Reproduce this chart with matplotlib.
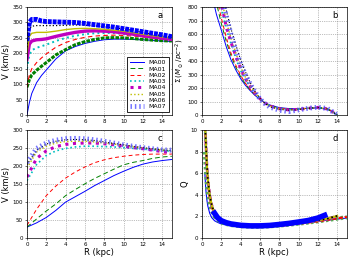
"""Four-panel rotation curve / surface density / Q figure for models MA00-MA07."""

import matplotlib
matplotlib.use("Agg")
import matplotlib.pyplot as plt

MODELS = ["MA00", "MA01", "MA02", "MA03", "MA04", "MA05", "MA06", "MA07"]

# panel a: total rotation curve
R_a = [0, 0.25, 0.5, 1, 1.5, 2, 3, 4, 5, 6, 7, 8, 9, 10, 11, 12, 13, 14, 15]
V_a = [
    [0, 40, 70, 105, 128, 146, 182, 208, 222, 232, 239, 244, 246, 246, 245, 244, 242, 240, 238],
    [90, 115, 130, 145, 158, 170, 195, 212, 228, 238, 245, 250, 251, 250, 248, 245, 243, 241, 240],
    [90, 130, 150, 170, 185, 198, 220, 235, 245, 252, 256, 258, 259, 258, 256, 253, 250, 247, 244],
    [150, 195, 210, 218, 223, 228, 240, 250, 257, 262, 265, 266, 266, 263, 260, 256, 252, 249, 246],
    [180, 230, 240, 244, 245, 247, 255, 262, 268, 272, 273, 272, 270, 266, 262, 257, 253, 249, 245],
    [200, 255, 265, 268, 268, 268, 272, 277, 280, 281, 280, 278, 275, 272, 267, 262, 257, 253, 249],
    [220, 280, 288, 290, 290, 290, 290, 291, 292, 291, 289, 286, 283, 279, 274, 268, 262, 257, 252],
    [240, 300, 310, 310, 305, 303, 302, 301, 300, 297, 293, 289, 285, 280, 275, 270, 265, 260, 254],
]

# panel b: surface density
R_b = [1.0, 1.5, 2, 2.5, 3, 3.5, 4, 4.5, 5, 5.5, 6, 6.5, 7, 8, 9, 10, 11, 12, 13, 13.5, 14]
S_b = [
    [900, 745, 630, 510, 410, 335, 270, 220, 180, 145, 115, 92, 75, 55, 48, 47, 50, 52, 42, 25, 0],
    [1000, 830, 680, 550, 440, 355, 285, 230, 185, 148, 116, 90, 72, 52, 45, 45, 50, 53, 43, 25, 0],
    [1050, 880, 720, 580, 460, 370, 295, 235, 188, 150, 117, 90, 70, 50, 42, 44, 50, 54, 44, 25, 0],
    [1150, 950, 790, 640, 530, 420, 330, 260, 205, 160, 122, 92, 70, 48, 40, 43, 50, 55, 45, 25, 0],
    [1200, 1000, 830, 660, 540, 440, 345, 270, 210, 162, 122, 90, 68, 46, 38, 42, 50, 56, 45, 25, 0],
    [1250, 1050, 870, 700, 570, 460, 360, 280, 215, 165, 123, 90, 67, 45, 37, 42, 51, 56, 46, 25, 0],
    [1350, 1150, 950, 780, 640, 520, 410, 320, 240, 175, 125, 88, 62, 42, 35, 40, 50, 56, 46, 25, 0],
    [1300, 1100, 910, 740, 600, 480, 380, 300, 230, 170, 120, 85, 60, 35, 25, 38, 50, 58, 48, 25, 0],
]

# panel c: disc-only rotation curve
R_c = list(range(16))
V_c = [
    [30, 42, 57, 77, 100, 115, 130, 146, 160, 174, 186, 197, 206, 212, 216, 219],
    [30, 53, 75, 95, 118, 135, 151, 166, 179, 192, 204, 211, 216, 222, 226, 228],
    [35, 80, 118, 145, 167, 184, 198, 210, 218, 224, 228, 231, 233, 234, 234, 234],
    [160, 205, 230, 243, 250, 254, 256, 256, 255, 254, 252, 250, 248, 246, 244, 242],
    [170, 222, 243, 255, 261, 264, 265, 265, 263, 260, 256, 252, 249, 245, 241, 238],
    [195, 240, 256, 265, 269, 270, 270, 268, 265, 262, 258, 254, 251, 248, 245, 243],
    [205, 245, 262, 270, 274, 275, 274, 272, 268, 264, 260, 256, 252, 249, 246, 244],
    [210, 250, 265, 273, 277, 278, 277, 274, 270, 265, 260, 256, 252, 249, 246, 245],
]

# panel d: Toomre Q (curves stop at different radii)
R_d = [0.3, 0.4, 0.5, 0.6, 0.8, 1.0, 1.3, 1.6, 2, 2.5, 3, 4, 5, 6, 7, 8, 9, 10, 11, 12, 12.7, 13, 14, 15]
Q_d = [
    [6.0, 4.5, 3.6, 3.0, 2.3, 1.9, 1.6, 1.45, 1.3, 1.2, 1.13, 1.05, 1.02, 1.03, 1.08, 1.15, 1.25, 1.35, 1.45, 1.55, 1.62, 1.65, 1.75, 1.85],
    [8.0, 6.5, 5.2, 4.3, 3.2, 2.6, 2.0, 1.7, 1.45, 1.3, 1.2, 1.1, 1.05, 1.05, 1.08, 1.15, 1.23, 1.33, 1.43, 1.55, 1.63, 1.67, 1.8, 1.92],
    [10.5, 8.5, 6.5, 5.3, 3.8, 2.9, 2.2, 1.8, 1.5, 1.33, 1.22, 1.1, 1.05, 1.05, 1.08, 1.14, 1.22, 1.32, 1.42, 1.54, 1.63, 1.67, 1.82, 1.95],
    [10.5, 8.6, 6.6, 5.4, 3.9, 3.0, 2.25, 1.82, 1.52, 1.34, 1.22, 1.1, 1.05, 1.05, 1.08, 1.15, 1.24, 1.35, 1.46, 1.6, 1.7, 1.75, 2.0],
    [11.0, 9.0, 7.0, 5.6, 4.0, 3.1, 2.3, 1.85, 1.55, 1.35, 1.23, 1.1, 1.05, 1.05, 1.09, 1.16, 1.25, 1.36, 1.48, 1.62, 1.72, 1.78, 2.02],
    [11.0, 9.0, 7.0, 5.6, 4.0, 3.1, 2.3, 1.85, 1.55, 1.35, 1.23, 1.1, 1.06, 1.06, 1.1, 1.17, 1.26, 1.37, 1.5, 1.64, 1.74, 1.8, 2.05],
    [11.0, 9.0, 7.0, 5.6, 4.0, 3.1, 2.3, 1.85, 1.55, 1.35, 1.23, 1.1, 1.06, 1.06, 1.1, 1.17, 1.26, 1.37, 1.5, 1.64, 1.74, 1.8, 2.05],
]
# MA07 only covers 1.3-12.7 kpc in panel d
R_d7 = [1.3, 1.6, 2, 2.5, 3, 4, 5, 6, 7, 8, 9, 10, 11, 12, 12.7]
Q_d7 = [2.3, 1.9, 1.6, 1.42, 1.3, 1.17, 1.12, 1.12, 1.16, 1.25, 1.35, 1.48, 1.62, 1.85, 2.1]

STYLE = [
    dict(color="b", ls="-", lw=0.7),
    dict(color="g", ls=(0, (5, 3)), lw=0.7),
    dict(color="r", ls=(0, (4, 3)), lw=0.7),
    dict(color="c", ls=":", lw=1.2),
    dict(color="m", ls=(0, (1, 1.5)), lw=2.2),
    dict(color="y", ls=":", lw=1.0),
    dict(color="k", ls=":", lw=0.8),
    dict(color="#5050ff", ls=(0, (0.3, 0.6)), lw=3.5, alpha=0.8),
]

# heavier strokes in panel a (dense sampling in the original)
STYLE_A = [
    dict(color="b", ls="-", lw=0.7),
    dict(color="g", ls=(0, (1.2, 0.4)), lw=2.2),
    dict(color="r", ls=(0, (4, 3)), lw=0.8),
    dict(color="c", ls=":", lw=1.4),
    dict(color="m", ls="-", lw=2.4),
    dict(color="y", ls="-", lw=1.0),
    dict(color="k", ls=":", lw=0.9),
    dict(color="b", ls=(0, (0.8, 0.2)), lw=3.5),
]

STYLE_D = [
    dict(color="b", ls="-", lw=0.8),
    dict(color="#55aa55", ls=(0, (0.6, 0.6)), lw=3.0),
    dict(color="r", ls=(0, (2, 1)), lw=1.5),
    dict(color="c", ls=":", lw=1.8),
    dict(color="m", ls=(0, (1.5, 1)), lw=2.0),
    dict(color="y", ls="-", lw=1.5),
    dict(color="k", ls=":", lw=1.2),
    dict(color="b", ls="-", lw=4.0),
]

plt.rcParams.update({"font.size": 4, "axes.linewidth": 0.5,
                     "xtick.major.width": 0.4, "ytick.major.width": 0.4,
                     "xtick.major.size": 1.5, "ytick.major.size": 1.5,
                     "xtick.major.pad": 1.5, "ytick.major.pad": 1.5})

fig = plt.figure(figsize=(3.5, 2.62), dpi=100)
ax_a = fig.add_axes([0.077, 0.561, 0.414, 0.412])
ax_b = fig.add_axes([0.577, 0.561, 0.414, 0.412])
ax_c = fig.add_axes([0.077, 0.092, 0.414, 0.410])
ax_d = fig.add_axes([0.577, 0.092, 0.414, 0.410])

handles = []
for i, name in enumerate(MODELS):
    ax_a.plot(R_a, V_a[i], **STYLE_A[i])
    handles.append(plt.Line2D([], [], label=name, **STYLE[i]))
    ax_b.plot(R_b, S_b[i], **STYLE[i])
    ax_c.plot(R_c, V_c[i], **STYLE[i])
    if i < 7:
        ax_d.plot(R_d[:len(Q_d[i])], Q_d[i], **STYLE_D[i])
    else:
        ax_d.plot(R_d7, Q_d7, **STYLE_D[i])

ax_a.set_ylim(0, 350)
ax_b.set_ylim(0, 800)
ax_c.set_ylim(0, 300)
ax_d.set_ylim(0, 10)

for ax, letter in zip([ax_a, ax_b, ax_c, ax_d], "abcd"):
    ax.set_xlim(0, 15)
    ax.set_xticks(range(0, 15, 2))
    ax.grid(True, ls=":", color="0.5", lw=0.5)
    ax.text(0.9, 0.9, letter, transform=ax.transAxes, fontsize=6)

ax_a.set_ylabel("V (km/s)", fontsize=6, labelpad=1)
ax_b.set_ylabel(r"$\Sigma\,(M_\odot\,/pc^{-2})$", fontsize=5, labelpad=1)
ax_c.set_ylabel("V (km/s)", fontsize=6, labelpad=1)
ax_d.set_ylabel("Q", fontsize=6, labelpad=1)
ax_c.set_xlabel("R (kpc)", fontsize=6, labelpad=1)
ax_d.set_xlabel("R (kpc)", fontsize=6, labelpad=1)

leg = ax_a.legend(handles=handles, loc="lower right", fontsize=4.5,
                  handlelength=2.2, labelspacing=0.15, borderpad=0.4,
                  fancybox=False, edgecolor="k", framealpha=1)
leg.get_frame().set_linewidth(0.6)

fig.savefig("out.png", dpi=100)
